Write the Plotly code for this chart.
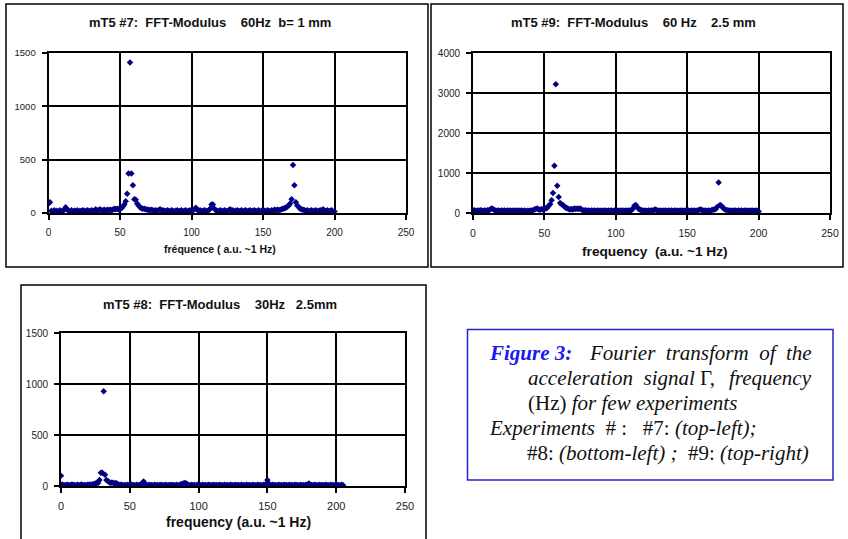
import plotly.graph_objects as go

W, H = 848, 539

# ---------------- data ----------------
freq7 = list(range(0, 201))
mod7 = [
    90, 100, 20, 10, 25, 15, 20, 10, 25, 15, 20, 30, 55, 35, 20, 15, 25, 10, 20, 15,
    25, 10, 20, 15, 25, 20, 15, 25, 20, 15, 25, 20, 15, 35, 20, 25, 35, 20, 25, 30,
    20, 30, 25, 30, 25, 30, 40, 35, 40, 35, 40, 45, 60, 80, 110, 180, 370, 1410, 370, 260,
    130, 125, 90, 70, 55, 45, 40, 40, 35, 30, 30, 25, 30, 25, 20, 25, 20, 25, 35, 20,
    25, 20, 15, 25, 20, 15, 25, 20, 15, 20, 25, 15, 20, 25, 15, 20, 25, 15, 20, 25,
    20, 25, 35, 50, 30, 20, 25, 15, 20, 25, 20, 15, 25, 40, 80, 80, 40, 25, 20, 15,
    25, 20, 15, 25, 20, 15, 25, 35, 20, 25, 15, 20, 25, 15, 20, 25, 15, 20, 25, 15,
    20, 25, 15, 20, 25, 15, 20, 25, 15, 20, 25, 20, 15, 25, 20, 15, 25, 20, 30, 25,
    30, 25, 30, 35, 40, 45, 50, 60, 70, 90, 130, 450, 260, 100, 70, 55, 40, 35, 30, 25,
    20, 25, 15, 20, 25, 15, 20, 25, 15, 20, 25, 20, 35, 20, 15, 25, 15, 20, 25, 15,
    15,
]

freq9 = list(range(0, 201))
mod9 = [
    60, 70, 50, 65, 55, 70, 60, 50, 65, 55, 70, 60, 90, 110, 100, 70, 60, 55, 65, 50,
    60, 55, 65, 50, 60, 55, 65, 50, 60, 55, 65, 50, 60, 55, 65, 50, 60, 45, 55, 50,
    60, 55, 70, 90, 100, 110, 90, 80, 100, 90, 100, 110, 130, 180, 220, 320, 500, 1180, 3220, 680,
    400, 250, 220, 200, 160, 130, 120, 100, 90, 100, 90, 110, 100, 110, 100, 110, 90, 70, 60, 70,
    55, 65, 50, 60, 55, 65, 50, 60, 55, 65, 50, 60, 55, 65, 50, 60, 55, 65, 50, 60,
    55, 65, 50, 60, 55, 65, 50, 60, 55, 65, 60, 70, 110, 180, 200, 150, 100, 80, 70, 60,
    55, 65, 50, 60, 55, 65, 60, 80, 90, 60, 55, 65, 50, 60, 55, 65, 50, 60, 55, 65,
    50, 60, 55, 65, 50, 60, 55, 65, 50, 60, 55, 65, 50, 60, 55, 65, 50, 60, 70, 90,
    80, 60, 55, 65, 50, 60, 55, 70, 80, 90, 100, 150, 760, 200, 180, 130, 100, 80, 70, 60,
    65, 50, 60, 55, 65, 50, 60, 55, 65, 50, 60, 55, 65, 50, 60, 55, 65, 50, 60, 55,
    40,
]

freq8 = list(range(0, 206))
mod8 = [
    100, 15, 5, 10, 8, 12, 5, 10, 15, 8, 10, 5, 12, 8, 10, 15, 8, 10, 5, 12,
    10, 15, 12, 15, 20, 25, 30, 30, 60, 130, 130, 930, 110, 60, 50, 40, 30, 35, 30, 25,
    30, 20, 15, 10, 12, 8, 10, 5, 12, 8, 10, 15, 8, 10, 5, 12, 8, 10, 15, 20,
    45, 20, 10, 5, 12, 8, 10, 5, 12, 8, 10, 5, 12, 8, 10, 5, 12, 8, 10, 5,
    12, 8, 10, 5, 12, 8, 10, 15, 20, 25, 30, 25, 15, 10, 5, 12, 8, 10, 5, 12,
    8, 10, 5, 12, 8, 10, 5, 12, 8, 10, 5, 12, 8, 10, 5, 12, 8, 10, 5, 12,
    8, 10, 5, 12, 8, 10, 5, 12, 8, 10, 5, 12, 8, 10, 5, 12, 8, 10, 5, 12,
    8, 10, 5, 12, 8, 10, 5, 12, 10, 20, 60, 25, 10, 5, 12, 8, 10, 5, 12, 8,
    10, 5, 12, 8, 10, 5, 12, 8, 10, 5, 12, 8, 10, 5, 12, 8, 10, 5, 12, 8,
    25, 15, 10, 5, 12, 8, 10, 5, 12, 8, 10, 5, 12, 8, 10, 5, 12, 8, 10, 5,
    12, 8, 10, 5, 12, 8,
]

x_ticks = [0, 50, 100, 150, 200, 250]
titles = [
    "mT5 #7:\u00a0\u00a0FFT-Modulus\u00a0\u00a0\u00a0\u00a060Hz\u00a0\u00a0b=\u00a01 mm",
    "mT5 #9:\u00a0\u00a0FFT-Modulus\u00a0\u00a0\u00a0\u00a060 Hz\u00a0\u00a0\u00a0\u00a02.5 mm",
    "mT5 #8:\u00a0\u00a0FFT-Modulus\u00a0\u00a0\u00a0\u00a030Hz\u00a0\u00a0\u00a02.5mm",
]
xtitles = [
    "fréquence ( a.u. ~1 Hz)",
    "frequency\u00a0\u00a0(a.u. ~1 Hz)",
    "frequency (a.u. ~1 Hz)",
]

# ---------------- helpers ----------------
def px(x):
    return x / W

def py(y):
    return 1 - y / H

NAVY = "#000080"
SANS = "Liberation Sans, Arial, sans-serif"
SERIF = "Liberation Serif, Times New Roman, serif"

fig = go.Figure()

panels = [
    # (x data, y data, plot-area px [x0,x1,y0,y1], yrange, ydtick, xtick font, ytick font)
    (freq7, mod7, (48.5, 406, 53, 213), 1500, 500, 10, 9.5),
    (freq9, mod9, (473, 830, 53, 213), 4000, 1000, 10.5, 10),
    (freq8, mod8, (61, 405, 333, 486), 1500, 500, 11, 10),
]

layout = {}
for i, (xs, ys, (x0, x1, y0, y1), ymax, ydt, xfs, yfs) in enumerate(panels):
    n = "" if i == 0 else str(i + 1)
    fig.add_trace(go.Scatter(
        x=xs, y=ys, mode="markers",
        marker=dict(symbol="diamond", size=5, color=NAVY),
        xaxis="x" + n, yaxis="y" + n, showlegend=False, hoverinfo="x+y",
    ))
    common = dict(
        showline=True, linecolor="black", linewidth=1.8, mirror=True,
        showgrid=True, gridcolor="black", gridwidth=1.8,
        zeroline=False, ticks="outside", ticklen=5, tickcolor="black",
        tickwidth=1.5, fixedrange=True, automargin=False,
    )
    layout["xaxis" + n] = dict(
        domain=[px(x0), px(x1)], anchor="y" + n, range=[0, 250],
        tickvals=x_ticks, ticklabelstandoff=4,
        tickfont=dict(family=SANS, size=xfs, color="#222"), **common,
    )
    layout["yaxis" + n] = dict(
        domain=[py(y1), py(y0)], anchor="x" + n, range=[0, ymax],
        dtick=ydt, ticklabelstandoff=4,
        tickfont=dict(family=SANS, size=yfs, color="#222"), **common,
    )

fig.update_layout(**layout)

annotations = []
shapes = []

# panel titles
title_pos = [(210, 22), (633, 22), (220, 304)]
for t, (tx, ty) in zip(titles, title_pos):
    annotations.append(dict(
        text="<b>" + t + "</b>", x=px(tx), y=py(ty), xref="paper", yref="paper",
        showarrow=False, xanchor="center", yanchor="middle",
        font=dict(family=SANS, size=13, color="#111"),
    ))

# axis titles
xt_pos = [(220, 249, 10.5), (655, 252, 13.7), (238.5, 522, 14)]
for t, (tx, ty, fs) in zip(xtitles, xt_pos):
    annotations.append(dict(
        text="<b>" + t + "</b>", x=px(tx), y=py(ty), xref="paper", yref="paper",
        showarrow=False, xanchor="center", yanchor="middle",
        font=dict(family=SANS, size=fs, color="#111"),
    ))

# panel frames
for (bx0, by0, bx1, by1) in [(6, 4, 428, 267), (431, 4, 843, 267), (21, 285, 426, 545)]:
    shapes.append(dict(
        type="rect", xref="paper", yref="paper",
        x0=px(bx0), x1=px(bx1), y0=py(by1), y1=py(by0),
        line=dict(color="black", width=1.5), fillcolor="rgba(0,0,0,0)",
    ))

# caption box
shapes.append(dict(
    type="rect", xref="paper", yref="paper",
    x0=px(467.5), x1=px(833), y0=py(480), y1=py(329.5),
    line=dict(color="#2222cc", width=1.5), fillcolor="rgba(0,0,0,0)",
))

CAP = 21
def cap(text, x, y, anchor="left"):
    annotations.append(dict(
        text=text, x=px(x), y=py(y), xref="paper", yref="paper",
        showarrow=False, xanchor=anchor, yanchor="middle",
        font=dict(family=SERIF, size=CAP, color="#111"),
    ))

cap("<b><i><span style='color:#1a1aee'>Figure 3:</span></i></b>", 487, 353)
cap("<i>Fourier\u00a0 transform\u00a0 of\u00a0 the</i>", 814, 353, "right")
cap("<i>acceleration\u00a0 signal</i>\u00a0\u0393,", 526, 378)
cap("<i>frequency</i>", 814, 378, "right")
cap("(Hz) <i>for few experiments</i>", 526, 403)
cap("<i>Experiments</i>\u00a0 # :\u00a0\u00a0 #7: <i>(top-left);</i>", 487, 428)
cap("#8: <i>(bottom-left) ;</i>\u00a0 #9: <i>(top-right)</i>", 525, 453)

fig.update_layout(
    width=W, height=H,
    margin=dict(l=0, r=0, t=0, b=0, pad=0, autoexpand=False),
    paper_bgcolor="white", plot_bgcolor="white",
    annotations=annotations, shapes=shapes,
    showlegend=False,
)

fig.write_html(
    "out.html",
    config={"displayModeBar": False},
    post_script="document.body.style.margin='0';document.body.style.overflow='hidden';",
)
